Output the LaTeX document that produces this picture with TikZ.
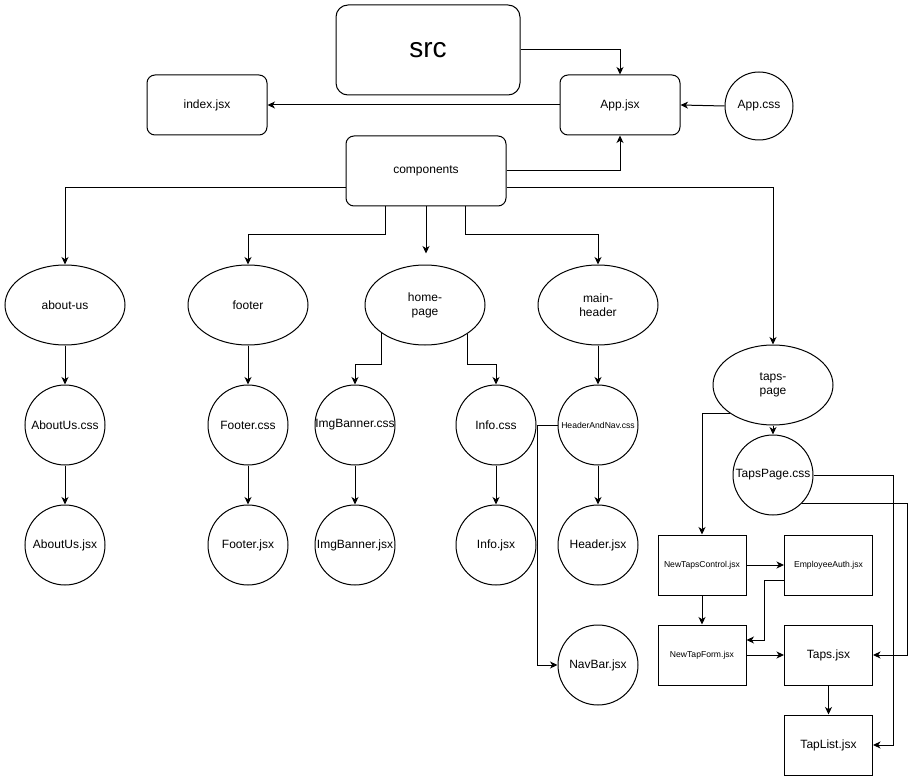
\documentclass[tikz,border=0pt]{standalone}
\usepackage{fontspec}
\setmainfont{Liberation Sans}
\usetikzlibrary{arrows.meta,shapes.geometric}

\tikzset{
  base/.style={draw=black, line width=1pt, inner sep=0pt, align=center, font=\fontsize{12}{14}\selectfont},
  rbox/.style={base, rounded corners=8pt, minimum width=120pt, minimum height=60pt},
  sqbox/.style={base, minimum width=88pt, minimum height=60pt},
  folder/.style={base, ellipse, minimum width=120pt, minimum height=80pt},
  file/.style={base, circle, minimum size=80pt},
  small/.style={font=\fontsize{8.6}{10}\selectfont},
  arr/.style={line width=1pt, -{Stealth[length=7.5pt,width=7pt,inset=2.2pt]}},
}

\begin{document}
\begin{tikzpicture}[x=1pt,y=-1pt]
  \useasboundingbox (0,0) rectangle (919,781);

  % top level
  \node[rbox, rounded corners=12pt, minimum width=184pt, minimum height=90pt,
        font=\fontsize{28}{32}\selectfont] (src) at (428,50) {src};
  \node[rbox] (app) at (620,105) {App.jsx};
  \node[rbox] (index) at (207,105) {index.jsx};
  \node[file, minimum size=68pt] (appcss) at (759,106) {App.css};
  \node[rbox, minimum width=160pt, minimum height=70pt] (comp) at (426,171) {components};

  % component folders
  \node[folder] (aboutus) at (65,305) {about-us};
  \node[folder] (footer) at (248,305) {footer};
  \node[folder] (homepage) at (425,305) {home-\\page};
  \node[folder] (mainheader) at (598,305) {main-\\header};
  \node[folder] (tapspage) at (773,385) {taps-\\page};

  % files
  \node[file] (aboutcss) at (65,425) {AboutUs.css};
  \node[file] (aboutjsx) at (65,545) {AboutUs.jsx};
  \node[file] (footercss) at (248,425) {Footer.css};
  \node[file] (footerjsx) at (248,545) {Footer.jsx};
  \node[file] (imgcss) at (355,425) {ImgBanner.css};
  \node[file] (imgjsx) at (355,545) {ImgBanner.jsx};
  \node[file] (infocss) at (496,425) {Info.css};
  \node[file] (infojsx) at (496,545) {Info.jsx};
  \node[file, small] (hnav) at (598,425) {HeaderAndNav.css};
  \node[file] (header) at (598,545) {Header.jsx};
  \node[file] (navbar) at (598,665) {NavBar.jsx};
  \node[file] (tapscss) at (773,475) {TapsPage.css};

  % taps-page files
  \node[sqbox, small] (ntc) at (702,565) {NewTapsControl.jsx};
  \node[sqbox, small] (ea) at (828.5,565) {EmployeeAuth.jsx};
  \node[sqbox, small] (ntf) at (702,655) {NewTapForm.jsx};
  \node[sqbox] (taps) at (828.5,655) {Taps.jsx};
  \node[sqbox] (taplist) at (828.5,745) {TapList.jsx};

  % top-level connectors
  \draw[arr] (src.east) -| (app.north);
  \draw[arr] (app.west) -- (index.east);
  \draw[arr] (appcss.west) -- (app.east);
  \draw[arr] (comp.east) -| (app.south);

  % components to folders
  \draw[arr] (comp.west |- 0,188) -| (aboutus.north);
  \draw[arr] (comp.east |- 0,188) -| (tapspage.north);
  \draw[arr] ([xshift=-41pt]comp.south) |- ([yshift=30pt]footer.north) -- (footer.north);
  \draw[arr] (comp.south) -- ([yshift=11pt]comp.south |- homepage.north);
  \draw[arr] ([xshift=39pt]comp.south) |- ([yshift=30pt]mainheader.north) -- (mainheader.north);

  % folder contents
  \draw[arr] (aboutus.south) -- (aboutcss.north);
  \draw[arr] (aboutcss.south) -- (aboutjsx.north);
  \draw[arr] (footer.south) -- (footercss.north);
  \draw[arr] (footercss.south) -- (footerjsx.north);
  \draw[arr] (homepage.213) |- ([yshift=20pt]imgcss.north) -- (imgcss.north);
  \draw[arr] (homepage.326) |- ([yshift=20pt]infocss.north) -- (infocss.north);
  \draw[arr] (imgcss.south) -- (imgjsx.north);
  \draw[arr] (infocss.south) -- (infojsx.north);
  \draw[arr] (mainheader.south) -- (hnav.north);
  \draw[arr] (hnav.south) -- (header.north);
  \draw[arr] (hnav.west) -| ([xshift=-20pt]navbar.west) -- (navbar.west);

  % taps-page connectors
  \draw[arr] (tapspage.south) -- (tapscss.north);
  \draw[arr] (tapspage.213) -| (ntc.north);
  \draw[arr] (tapscss.east) -| ([xshift=20pt]taplist.east) -- (taplist.east);
  \draw[arr] (tapscss.316) -| ([xshift=34pt]taps.east) -- (taps.east);
  \draw[arr] (ntc.east) -- (ea.west);
  \draw[arr] (ntc.south) -- (ntf.north);
  \draw[arr] ([yshift=-15pt]ea.west) -- ++(-20pt,0) |- ([yshift=15pt]ntf.east);
  \draw[arr] (ntf.east) -- (taps.west);
  \draw[arr] (taps.south) -- (taplist.north);
\end{tikzpicture}
\end{document}
